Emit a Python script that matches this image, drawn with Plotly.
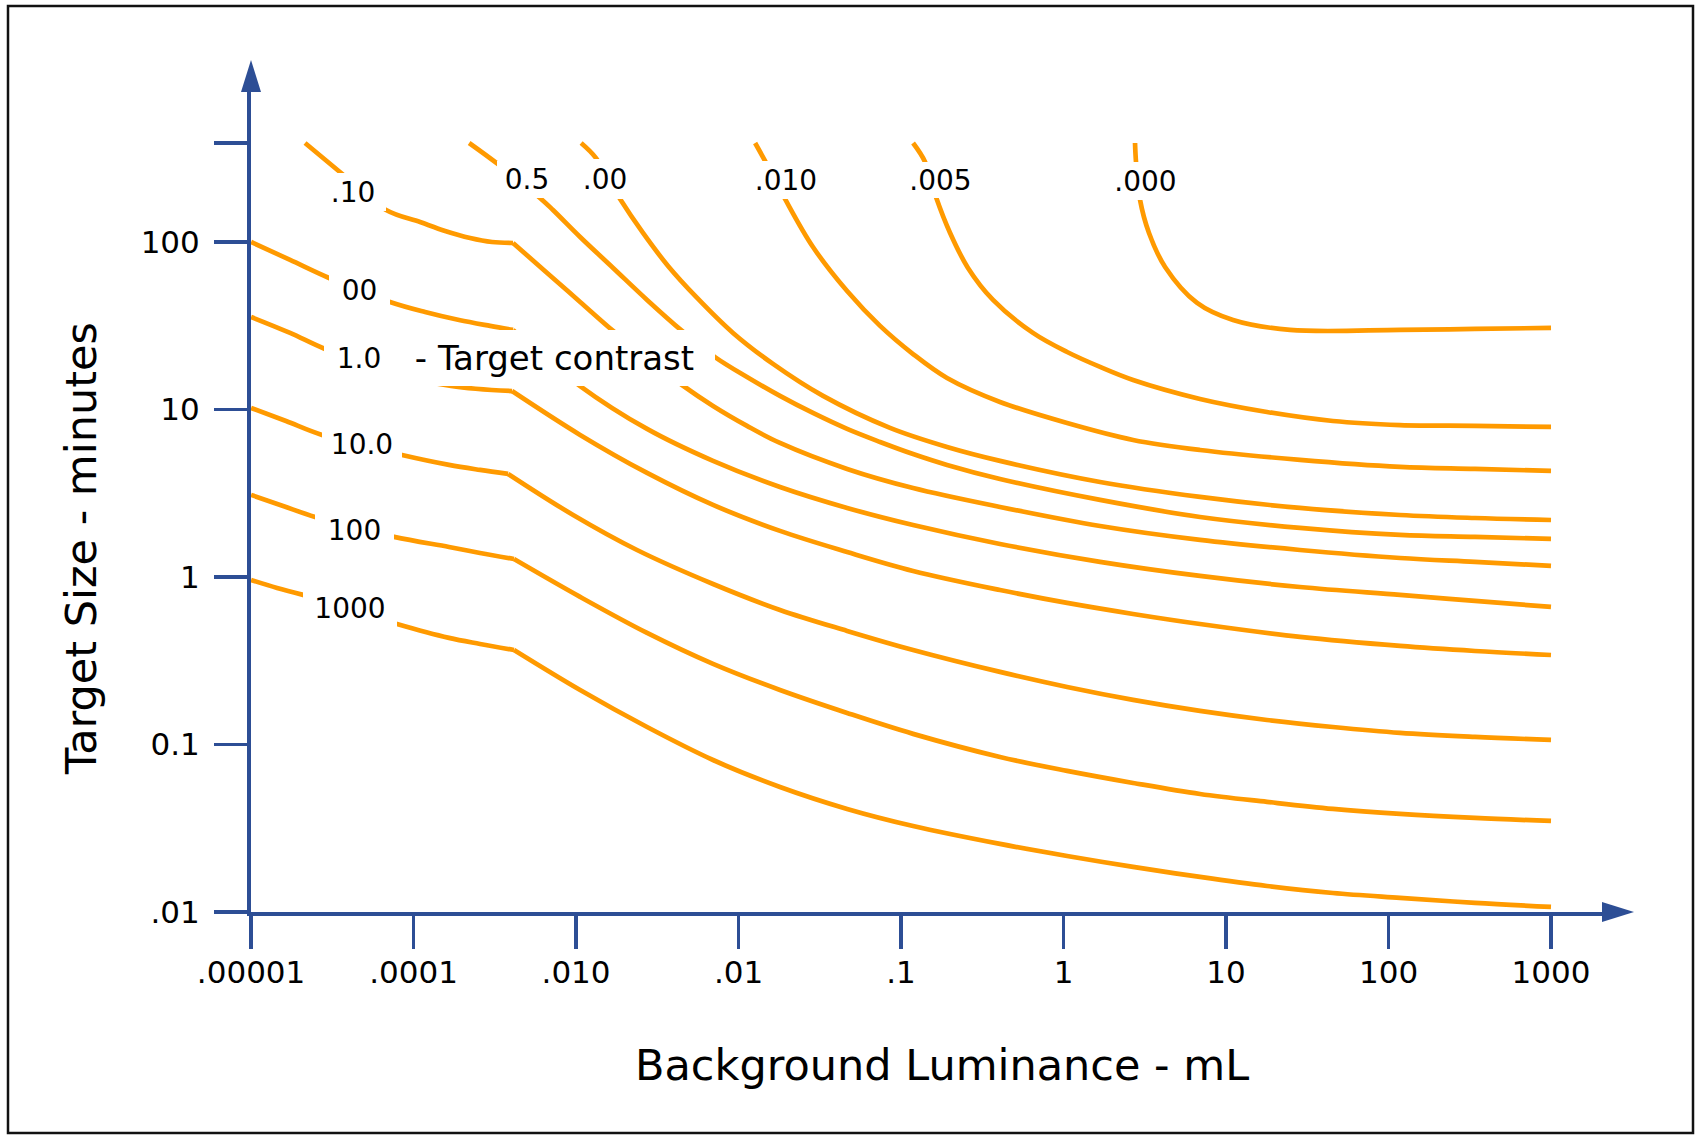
import plotly.graph_objects as go

# ---------------- data ----------------
# axis ticks as printed on the chart
X_TICK_VALUES = [1e-5, 1e-4, 1e-3, 1e-2, 1e-1, 1, 10, 100, 1000]
X_TICK_TEXT = [".00001", ".0001", ".010", ".01", ".1", "1", "10", "100", "1000"]
Y_TICK_VALUES = [0.01, 0.1, 1, 10, 100, 390]
Y_TICK_TEXT = [".01", "0.1", "1", "10", "100", ""]

# each curve: log10(background luminance, mL) and log10(target size, minutes)
LOGL_000 = [0.440, 0.446, 0.471, 0.526, 0.625, 0.822, 1.043, 1.394, 2.071, 2.532, 3.000]
LOGS_000 = [2.591, 2.478, 2.251, 2.054, 1.851, 1.636, 1.534, 1.475, 1.475, 1.481, 1.487]

LOGL_005 = [-0.926, -0.852, -0.785, -0.698, -0.588, -0.434, -0.188, 0.022, 0.225, 0.428, 0.840, 1.252, 1.658, 2.071,
            2.532, 3.000]
LOGS_005 = [2.591, 2.478, 2.269, 2.054, 1.845, 1.654, 1.457, 1.343, 1.254, 1.176, 1.063, 0.985, 0.931, 0.907,
            0.902, 0.896]

LOGL_010 = [-1.898, -1.837, -1.714, -1.542, -1.332, -1.129, -0.926, -0.717, -0.391, 0.022, 0.428, 0.840, 1.455, 2.071,
            2.532, 3.000]
LOGS_010 = [2.591, 2.484, 2.257, 1.970, 1.707, 1.499, 1.331, 1.188, 1.045, 0.919, 0.818, 0.758, 0.699, 0.657,
            0.645, 0.633]

LOGL_00 = [-2.969, -2.877, -2.729, -2.588, -2.434, -2.255, -2.034, -1.788, -1.480, -1.068, -0.717, -0.391, 0.225,
           0.840, 1.455, 2.071, 2.532, 3.000]
LOGS_00 = [2.591, 2.501, 2.257, 2.054, 1.857, 1.666, 1.457, 1.272, 1.081, 0.890, 0.776, 0.693, 0.567,
           0.478, 0.412, 0.370, 0.352, 0.340]

LOGL_05 = [-3.658, -3.474, -3.222, -3.142, -2.975, -2.772, -2.563, -2.348, -2.145, -1.948, -1.745, -1.542, -1.332,
           -1.129, -0.926, -0.717, -0.391, 0.225, 0.840, 1.455, 2.071, 2.532, 3.000]
LOGS_05 = [2.591, 2.460, 2.263, 2.191, 2.030, 1.845, 1.654, 1.469, 1.313, 1.194, 1.081, 0.979, 0.884,
           0.806, 0.734, 0.669, 0.585, 0.460, 0.358, 0.293, 0.251, 0.239, 0.227]

LOGL_10 = [-4.668, -4.446, -4.169, -3.960, -3.806, -3.652, -3.517, -3.388, -3.178, -2.975, -2.772, -2.557, -2.348,
           -2.157, -1.948, -1.745, -1.332, -0.926, -0.391, 0.225, 0.840, 1.455, 2.071, 2.532, 3.000]
LOGS_10 = [2.591, 2.412, 2.191, 2.119, 2.066, 2.024, 2.000, 1.994, 1.815, 1.642, 1.469, 1.301, 1.146,
           1.021, 0.902, 0.800, 0.645, 0.531, 0.418, 0.304, 0.221, 0.161, 0.113, 0.090, 0.066]

LOGL_00B = [-5.000, -4.760, -4.520, -4.145, -3.929, -3.720, -3.529, -3.388, -2.975, -2.563, -2.157, -1.745, -1.332,
            -0.926, -0.391, 0.225, 0.840, 1.455, 2.071, 2.532, 3.000]
LOGS_00B = [2.000, 1.893, 1.785, 1.642, 1.582, 1.534, 1.499, 1.475, 1.140, 0.884, 0.693, 0.537, 0.412,
            0.310, 0.197, 0.090, 0.006, -0.060, -0.107, -0.143, -0.179]

LOGL_1 = [-5.000, -4.760, -4.545, -4.145, -3.769, -3.394, -2.975, -2.563, -2.157, -1.745, -1.332, -0.926, -0.391,
          0.022, 0.428, 0.840, 1.455, 2.071, 2.532, 3.000]
LOGS_1 = [1.552, 1.457, 1.361, 1.224, 1.140, 1.110, 0.848, 0.621, 0.430, 0.275, 0.149, 0.036, -0.078,
          -0.155, -0.221, -0.281, -0.358, -0.412, -0.442, -0.466]

LOGL_10B = [-5.000, -4.785, -4.563, -4.071, -3.782, -3.591, -3.418, -3.018, -2.625, -2.157, -1.745, -1.332, -0.926,
            -0.391, 0.022, 0.428, 0.840, 1.252, 1.658, 2.071, 2.532, 3.000]
LOGS_10B = [1.009, 0.931, 0.848, 0.728, 0.669, 0.639, 0.615, 0.370, 0.161, -0.042, -0.197, -0.322, -0.436,
            -0.567, -0.657, -0.734, -0.800, -0.854, -0.896, -0.931, -0.955, -0.973]

LOGL_100 = [-5.000, -4.803, -4.606, -4.120, -3.782, -3.591, -3.382, -2.975, -2.563, -2.157, -1.745, -1.332, -0.926,
            -0.391, 0.022, 0.428, 0.840, 1.252, 1.658, 2.071, 2.532, 3.000]
LOGS_100 = [0.490, 0.424, 0.358, 0.239, 0.179, 0.143, 0.107, -0.119, -0.334, -0.519, -0.675, -0.812, -0.937,
            -1.075, -1.158, -1.230, -1.296, -1.343, -1.385, -1.415, -1.439, -1.457]

LOGL_1000 = [-5.000, -4.840, -4.680, -4.102, -3.782, -3.591, -3.382, -2.975, -2.563, -2.157, -1.745, -1.332, -0.926,
             -0.391, 0.022, 0.428, 0.840, 1.252, 1.658, 2.071, 2.532, 3.000]
LOGS_1000 = [-0.018, -0.066, -0.107, -0.281, -0.364, -0.400, -0.436, -0.675, -0.896, -1.093, -1.254, -1.385, -1.487,
             -1.594, -1.666, -1.731, -1.791, -1.845, -1.887, -1.916, -1.946, -1.970]

# index of the sharp bend in the curve (None = smooth)
KINK_000, KINK_005, KINK_010, KINK_00, KINK_05 = None, None, None, None, None
KINK_10, KINK_00B, KINK_1, KINK_10B, KINK_100, KINK_1000 = 7, 7, 5, 6, 6, 6

CURVES = [
    (LOGL_000, LOGS_000, KINK_000), (LOGL_005, LOGS_005, KINK_005), (LOGL_010, LOGS_010, KINK_010),
    (LOGL_00, LOGS_00, KINK_00), (LOGL_05, LOGS_05, KINK_05), (LOGL_10, LOGS_10, KINK_10),
    (LOGL_00B, LOGS_00B, KINK_00B), (LOGL_1, LOGS_1, KINK_1), (LOGL_10B, LOGS_10B, KINK_10B),
    (LOGL_100, LOGS_100, KINK_100), (LOGL_1000, LOGS_1000, KINK_1000),
]

# ---------------- styling ----------------
W, H = 1696, 1135
ORANGE = "#FF9A00"
BLUE = "#2D4E95"
FONT = "DejaVu Sans"
PL, PR, PT, PB = 251, 1602, 92, 912          # plot area in pixels
PX_PER_DEC_X, PX_PER_DEC_Y = 162.5, 167.5
X0_LOG, Y0_LOG = -5.0, -2.0


def lx(px):  # pixel -> log-axis coordinate (for annotations)
    return X0_LOG + (px - PL) / PX_PER_DEC_X


def ly(py):
    return Y0_LOG + (PB - py) / PX_PER_DEC_Y


def paper_x(px):
    return (px - PL) / (PR - PL)


def paper_y(py):
    return (PB - py) / (PB - PT)


fig = go.Figure()
for logl, logs, kink in CURVES:
    xs = [10 ** v for v in logl]
    ys = [10 ** v for v in logs]
    pieces = [(0, len(xs))] if kink is None else [(0, kink + 1), (kink, len(xs))]
    for a, b in pieces:
        fig.add_trace(go.Scatter(
            x=xs[a:b], y=ys[a:b], mode="lines",
            line=dict(color=ORANGE, width=4.7, shape="spline", smoothing=1.0),
            hoverinfo="skip", showlegend=False))

# curve labels (white boxes interrupt the lines)
LABELS = [
    (".10", 353, 192, 66, 38, 28), ("0.5", 527, 180, 60, 37, 28), (".00", 605, 179, 54, 40, 28),
    (".010", 786, 180, 72, 38, 28), (".005", 940, 180, 71, 36, 28), (".000", 1145, 181, 71, 38, 28),
    ("00", 359, 290, 61, 36, 28), ("1.0", 359, 358, 70, 56, 28), ("- Target contrast", 554.5, 358, 321, 56, 34),
    ("10.0", 362, 444, 80, 36, 28), ("100", 354.5, 530, 79, 36, 28), ("1000", 350, 608, 94, 38, 28),
]
for text, cx, cy, w, h, size in LABELS:
    fig.add_annotation(x=lx(cx), y=ly(cy), xref="x", yref="y", text=text, showarrow=False,
                       xanchor="center", yanchor="middle", width=w, height=h, bgcolor="white",
                       borderpad=0, borderwidth=0, font=dict(family=FONT, size=size, color="black"))

# axis titles
fig.add_annotation(x=paper_x(942), y=paper_y(1065), xref="paper", yref="paper",
                   text="Background Luminance - mL", showarrow=False, xanchor="center", yanchor="middle",
                   font=dict(family=FONT, size=43, color="black"))
fig.add_annotation(x=paper_x(81), y=paper_y(549), xref="paper", yref="paper",
                   text="Target Size - minutes", showarrow=False, xanchor="center", yanchor="middle",
                   textangle=-90, font=dict(family=FONT, size=43, color="black"))

# arrow heads and outer frame
fig.add_shape(type="path", xref="paper", yref="paper", layer="above",
              path=f"M {paper_x(1602)} {paper_y(902)} L {paper_x(1634)} {paper_y(912)} L {paper_x(1602)} {paper_y(922)} Z",
              fillcolor=BLUE, line=dict(color=BLUE, width=0))
fig.add_shape(type="path", xref="paper", yref="paper", layer="above",
              path=f"M {paper_x(241)} {paper_y(92)} L {paper_x(251)} {paper_y(60)} L {paper_x(261)} {paper_y(92)} Z",
              fillcolor=BLUE, line=dict(color=BLUE, width=0))
fig.add_shape(type="rect", xref="paper", yref="paper",
              x0=paper_x(8), x1=paper_x(1693), y0=paper_y(1133), y1=paper_y(6),
              line=dict(color="#111111", width=2.5))

axis_common = dict(showline=True, linecolor=BLUE, linewidth=4, ticks="outside", ticklen=33, tickwidth=3.5,
                   tickcolor=BLUE, showgrid=False, zeroline=False,
                   tickfont=dict(family=FONT, size=31, color="black"))
fig.update_xaxes(type="log", range=[X0_LOG - 0.0005, X0_LOG + (PR - PL) / PX_PER_DEC_X],
                 tickmode="array", tickvals=X_TICK_VALUES, ticktext=X_TICK_TEXT,
                 ticklabelstandoff=-3, **axis_common)
fig.update_yaxes(type="log", range=[Y0_LOG - 0.0005, Y0_LOG + (PB - PT) / PX_PER_DEC_Y],
                 tickmode="array", tickvals=Y_TICK_VALUES, ticktext=Y_TICK_TEXT,
                 ticklabelstandoff=8, **axis_common)

fig.update_layout(width=W, height=H, autosize=False,
                  margin=dict(l=PL, r=W - PR, t=PT, b=H - PB, pad=0),
                  paper_bgcolor="white", plot_bgcolor="white", showlegend=False)

fig.write_html("out.html", config={"displayModeBar": False, "staticPlot": True},
               post_script="document.body.style.margin='0';document.body.style.overflow='hidden';")
